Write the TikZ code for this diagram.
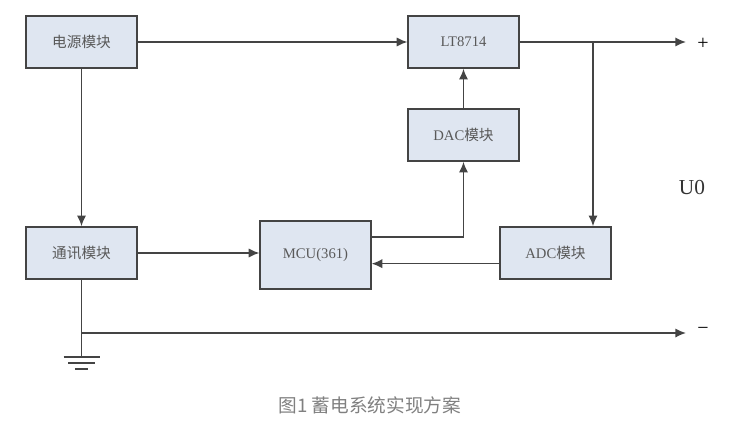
\documentclass[tikz,border=0pt]{standalone}
\usepackage{fontspec}
\setmainfont{Liberation Serif}
\newfontfamily\cjk{Noto Sans CJK SC}
\usetikzlibrary{arrows.meta}
\definecolor{boxfill}{HTML}{DFE6F1}
\definecolor{wiregray}{HTML}{444444}

\begin{document}
\begin{tikzpicture}[x=0.75pt,y=-0.75pt,>={Latex[length=8pt,width=7pt]},
    block/.style={draw=wiregray,fill=boxfill,line width=1.2pt,minimum width=83pt,minimum height=39pt,inner sep=0pt,text=black!65,font=\fontsize{11}{13}\selectfont},
    wire/.style={draw=wiregray,line width=1.2pt}]
    \useasboundingbox (0,0) rectangle (737,424);
    \node[block] (power) at (81.5,42) {{\cjk 电源模块}};
    \node[block] (lt) at (463.5,42) {LT8714};
    \node[block] (dac) at (463.5,135) {DAC{\cjk 模块}};
    \node[block] (comm) at (81.5,253) {{\cjk 通讯模块}};
    \node[block,minimum height=51pt] (mcu) at (315.5,255) {MCU(361)};
    \node[block] (adc) at (555.5,253) {ADC{\cjk 模块}};
    \coordinate (tap) at (593,42);
    \coordinate (pend) at (686,42);
    \coordinate (gtap) at (81.5,333);
    \coordinate (mend) at (686,333);
    \coordinate (gnd) at (81.5,357);
    \node[font=\fontsize{15}{17}\selectfont] (plus) at (703,44) {+};
    \node[font=\fontsize{15}{17}\selectfont] (minus) at (703,331) {\textminus};
    \node[font=\fontsize{16}{18}\selectfont,text=black!80] (uo) at (692,188) {U0};
    \node[font=\cjk\fontsize{14}{16}\selectfont,text=black!50] (caption) at (370,405) {图1 蓄电系统实现方案};
    \draw[wire,->] (power) -- (lt);
    \draw[wire,->] (power) -- (comm);
    \draw[wire,->] (comm.east) -- (comm.east -| mcu.west);
    \draw[wire,->] (dac) -- (lt);
    \draw[wire,->] ([yshift=13.5pt]mcu.east) -| (dac.south);
    \draw[wire,->] ([yshift=-8pt]adc.west) -- ([yshift=-8pt]adc.west -| mcu.east);
    \draw[wire,->] (lt.east) -- (pend);
    \draw[wire,->] (tap) -- (tap |- adc.north);
    \draw[wire] (comm) -- (gnd);
    \draw[wire,->] (gtap) -- (mend);
    \draw[wire] ([xshift=-13.5pt]gnd) -- ([xshift=13.5pt]gnd)
        ([xshift=-10pt,yshift=-4.5pt]gnd) -- ([xshift=10pt,yshift=-4.5pt]gnd)
        ([xshift=-5pt,yshift=-9pt]gnd) -- ([xshift=5pt,yshift=-9pt]gnd);
\end{tikzpicture}
\end{document}
